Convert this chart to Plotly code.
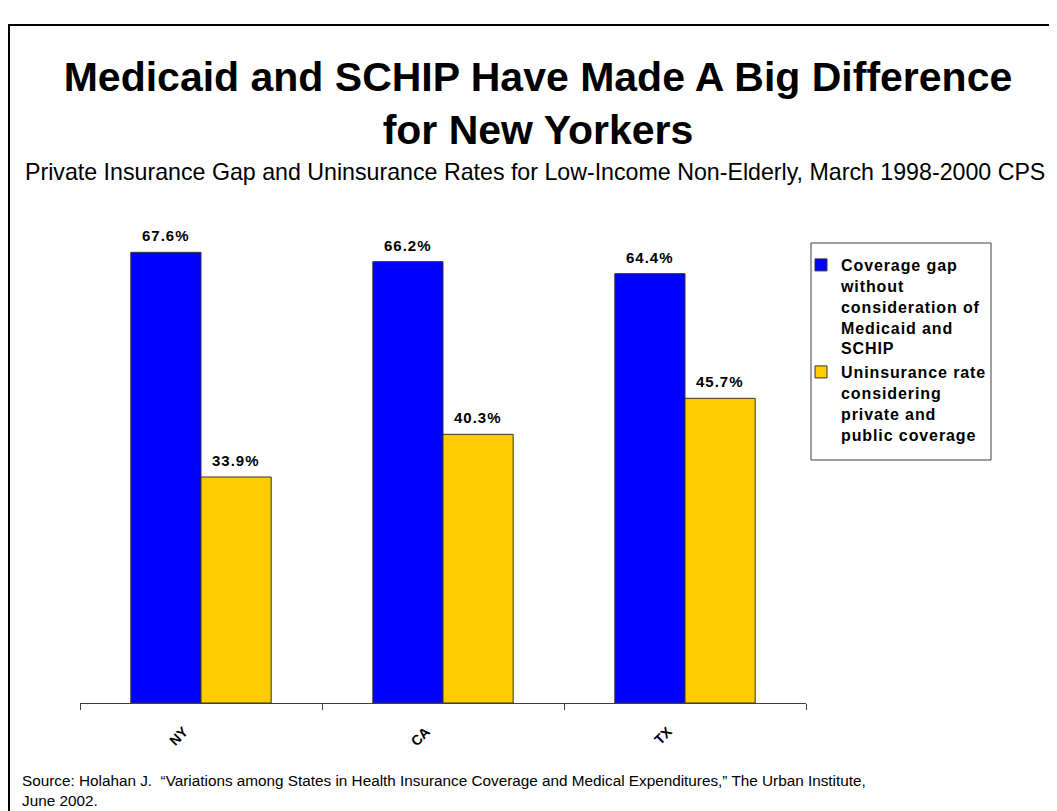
import plotly.graph_objects as go

states = ["NY", "CA", "TX"]
gap_values = [67.6, 66.2, 64.4]
uninsured_values = [33.9, 40.3, 45.7]
series_lines = [
    ["Coverage gap", "without", "consideration of", "Medicaid and", "SCHIP"],
    ["Uninsurance rate", "considering", "private and", "public coverage"],
]
colors = ["#0000FF", "#FFCC00"]

title_text = "Medicaid and SCHIP Have Made A Big Difference<br>for New Yorkers"
subtitle_text = ("Private Insurance Gap and Uninsurance Rates for Low-Income "
                 "Non-Elderly, March 1998-2000 CPS")
source_text = ("Source: Holahan J.  \u201cVariations among States in Health Insurance "
               "Coverage and Medical Expenditures,\u201d The Urban Institute,<br>June 2002.")

OFF = 8  # page body margin
W, H = 1057 - OFF, 811 - OFF
PL, PT, PW, PH = 80, 203, 726, 500  # plot area in page pixels
L, T = PL - OFF, PT - OFF
R, B = W - L - PW, H - T - PH


def px_x(p):
    return (p - PL) / PW


def px_y(p):
    return (PT + PH - p) / PH


def spaced(text, sp):
    return "<br>".join(f'<span style="letter-spacing:{sp}px">{ln}</span>'
                       for ln in text.split("<br>"))


fig = go.Figure()
for lines, vals, col in zip(series_lines, [gap_values, uninsured_values], colors):
    fig.add_trace(go.Bar(
        x=states, y=vals, name=spaced("<br>".join(lines), 0.9),
        marker=dict(color=col, line=dict(color="#333333", width=1)),
    ))

annotations = []
for shift, vals in zip([-35, 35], [gap_values, uninsured_values]):
    for s, v in zip(states, vals):
        annotations.append(dict(
            x=s, y=v, xref="x", yref="y", text=spaced(f"{v:.1f}%", 1), showarrow=False,
            xshift=shift, yshift=6, yanchor="bottom",
            font=dict(family="Liberation Sans, Arial", size=15, color="#000000", weight="bold"),
        ))

annotations.append(dict(
    x=px_x(535), y=px_y(172), xref="paper", yref="paper", text=subtitle_text,
    showarrow=False, xanchor="center", yanchor="middle",
    font=dict(family="Liberation Sans, Arial", size=23.2, color="#000000"),
))
annotations.append(dict(
    x=px_x(20), y=px_y(790), xref="paper", yref="paper", text=source_text,
    showarrow=False, xanchor="left", yanchor="middle", align="left",
    font=dict(family="Liberation Sans, Arial", size=15.3, color="#000000"),
))

shapes = [
    dict(type="rect", xref="paper", yref="paper",
         x0=px_x(9), x1=px_x(1080), y0=px_y(840), y1=px_y(25),
         line=dict(color="#000000", width=2), fillcolor="rgba(0,0,0,0)", layer="below"),
    dict(type="rect", xref="paper", yref="paper",
         x0=px_x(811), x1=px_x(991), y0=px_y(460), y1=px_y(243),
         line=dict(color="#404040", width=1), fillcolor="rgba(0,0,0,0)", layer="below"),
]

fig.update_layout(
    width=W, height=H,
    margin=dict(l=L, r=R, t=T, b=B),
    paper_bgcolor="#FFFFFF", plot_bgcolor="#FFFFFF",
    barmode="group", bargap=0.42, bargroupgap=0,
    title=dict(
        text=title_text, x=(538 - OFF) / W, xref="container", xanchor="center",
        y=1 - 83 / H, yref="container", yanchor="top",
        font=dict(family="Liberation Sans, Arial", size=41, color="#000000", weight="bold"),
    ),
    legend=dict(
        x=px_x(801), y=px_y(248), xanchor="left", yanchor="top",
        bgcolor="rgba(0,0,0,0)", borderwidth=0, valign="top",
        font=dict(family="Liberation Sans, Arial", size=16, color="#000000", weight="bold"),
        itemwidth=30, tracegroupgap=9,
    ),
    xaxis=dict(
        showline=True, linecolor="#404040", linewidth=1,
        ticks="outside", tickson="boundaries", ticklen=6, tickcolor="#404040",
        tickangle=-45, showgrid=False, zeroline=False,
        tickfont=dict(family="Liberation Sans, Arial", size=14, color="#000000", weight="bold"),
        ticklabelshift=-17, ticklabelstandoff=14,
    ),
    yaxis=dict(range=[0, 75], visible=False, showgrid=False, zeroline=False),
    annotations=annotations,
    shapes=shapes,
    showlegend=True,
)

fig.write_html("out.html")
